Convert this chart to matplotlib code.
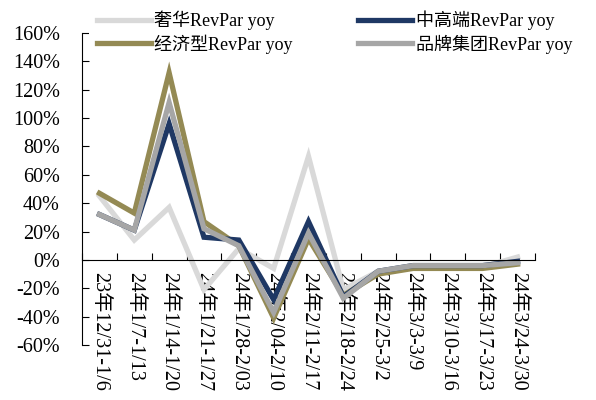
import matplotlib
matplotlib.use("Agg")
import matplotlib.pyplot as plt

plt.rcParams['font.family'] = ['Liberation Serif', 'Noto Sans CJK SC']

categories = ["23年12/31-1/6", "24年1/7-1/13", "24年1/14-1/20", "24年1/21-1/27",
              "24年1/28-2/03", "24年2/04-2/10", "24年2/11-2/17", "24年2/18-2/24",
              "24年2/25-3/2", "24年3/3-3/9", "24年3/10-3/16", "24年3/17-3/23",
              "24年3/24-3/30"]
luxury = [45, 14, 37, -21, 8, -6, 73, -21, -8, -5, -5, -5, 2]
midhigh = [32, 21, 96, 16, 14, -28, 27, -26, -8, -4, -4, -4, -1]
economy = [47, 33, 132, 27, 10, -41, 15, -25, -10, -6, -6, -6, -3]
brand = [32, 21, 111, 22, 10, -37, 19, -27, -8, -4, -4, -4, -2]
yticks = list(range(-60, 161, 20))

fig = plt.figure(figsize=(5.96, 4.0), dpi=100)
ax = fig.add_axes([0.1376, 0.1375, 0.76, 0.78])

x = list(range(len(categories)))
lw = 3.8
l1, = ax.plot(x, luxury, color='#D9D9D9', lw=lw, label='奢华RevPar yoy', solid_joinstyle='miter')
l3, = ax.plot(x, economy, color='#948A54', lw=lw, label='经济型RevPar yoy', solid_joinstyle='miter')
l2, = ax.plot(x, midhigh, color='#1F3864', lw=lw, label='中高端RevPar yoy', solid_joinstyle='miter')
l4, = ax.plot(x, brand, color='#A6A6A6', lw=lw, label='品牌集团RevPar yoy', solid_joinstyle='miter')

ax.set_xlim(-0.5, len(categories) - 0.5)
ax.set_ylim(-60, 160)
ax.set_yticks(yticks)
ax.set_yticklabels([f"{v}%" for v in yticks], fontsize=14.5)

ax.spines['top'].set_visible(False)
ax.spines['right'].set_visible(False)
ax.spines['bottom'].set_position(('data', 0))
ax.spines['left'].set_linewidth(0.8)
ax.spines['bottom'].set_linewidth(0.8)

ax.set_xticks([i - 0.5 for i in range(len(categories) + 1)])
ax.set_xticklabels([])
ax.set_xticks(x, minor=True)
ax.set_xticklabels(categories, minor=True, rotation=270, fontsize=14.5, va='top', ha='center')
ax.tick_params(axis='x', which='major', direction='in', length=5)
ax.tick_params(axis='x', which='minor', length=0, pad=9)
ax.tick_params(axis='y', direction='in', length=5, pad=16)

leg = fig.legend([l1, l3, l2, l4], [l1.get_label(), l3.get_label(), l2.get_label(), l4.get_label()],
                 ncol=2, loc='upper left', bbox_to_anchor=(0.135, 1.015), frameon=True,
                 facecolor='white', edgecolor='none', framealpha=1, fancybox=False,
                 fontsize=13, handlelength=3.0, columnspacing=3.6, labelspacing=0.25,
                 handletextpad=0.2)
leg.get_frame().set_linewidth(0)
leg.set_zorder(10)

fig.savefig('out.png', dpi=100)
